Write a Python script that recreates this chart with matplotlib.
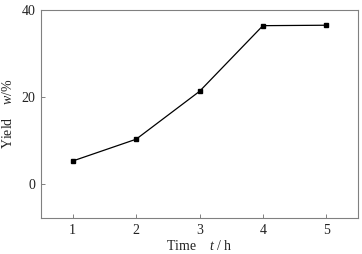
import matplotlib
matplotlib.use("Agg")
import matplotlib.pyplot as plt

time_h = [1, 2, 3, 4, 5]
yield_pct = [5.3, 10.3, 21.3, 36.4, 36.5]
xticks = [1, 2, 3, 4, 5]
yticks = [0, 20, 40]

plt.rcParams['font.family'] = ['Liberation Serif', 'DejaVu Serif']
plt.rcParams['mathtext.fontset'] = 'custom'
plt.rcParams['mathtext.it'] = 'Liberation Serif:italic'
plt.rcParams['mathtext.rm'] = 'Liberation Serif'

fig = plt.figure(figsize=(3.62, 2.54), dpi=100)
ax = fig.add_axes([41/362, 1 - 218/254, (358-41)/362, (218-10)/254])
ax.plot(time_h, yield_pct, color='black', lw=0.9, marker='s', ms=3.5, mfc='black', mec='black')
ax.set_xlim(0.5, 5.5)
ax.set_ylim(-7.8, 40)
ax.set_xticks(xticks)
ax.set_yticks(yticks)
for s in ax.spines.values():
    s.set_color('#808080')
    s.set_linewidth(0.8)
ax.tick_params(direction='in', length=3, width=0.7, color='#808080', labelsize=10, labelcolor='#222222', pad=4)
ax.set_xlabel('Time    $t$ / h', fontsize=10, color='#222222', labelpad=2)
ax.set_ylabel('Yield    $w$/%', fontsize=10, color='#222222', labelpad=5)
fig.savefig('out.png', dpi=100)
